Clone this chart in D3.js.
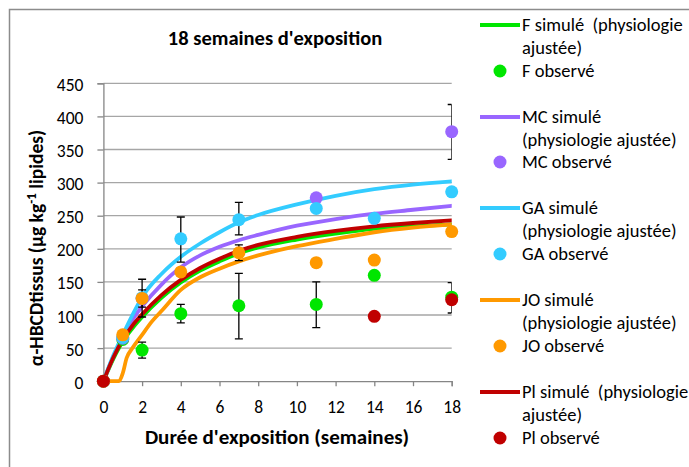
<!DOCTYPE html>
<html><head><meta charset="utf-8">
<script src="https://cdn.jsdelivr.net/npm/d3@7"></script>
<style>
html,body{margin:0;padding:0;background:#fff;}
svg{display:block;font-family:Carlito,Lato,"Liberation Sans",sans-serif;}
</style></head>
<body><svg id="c" width="689" height="467"></svg>
<script>
// ---- data ----
const title = "18 semaines d'exposition";
const xTicks = [0,2,4,6,8,10,12,14,16,18];
const yTicks = [0,50,100,150,200,250,300,350,400,450];
const seriesNames = ["F","MC","GA","JO","Pl"];
const seriesColors = ["#00e600","#9966ff","#33ccff","#ff9900","#c00000"];

const simTimes = [0,0.5,1,1.5,2,3,4,5,6,7,8,10,12,14,16,18];
const simF  = [0,33,60,80,97,126,149,167,181,193,202,214,223,230,234,237];
const simMC = [0,36,66,93,113,146,172,190,203,213,221,235,245,253,259,265];
const simGA = [0,38,70,100,127,162,188,208,225,240,251,267,280,290,297,302];
const simPl = [0,35,63,84,101,130,153,171,185,197,206,218,227,234,239,243];
const simTimesJO = [0,0.5,0.8,1,1.2,1.5,2,2.5,3,4,5,6,7,8,10,12,14,16,18];
const simJO = [0,0,0,12,35,50,70,90,106,138,157,170,181,190,204,215,225,232,237];

const obsTimesF = [0,1,2,4,7,11,14,18];
const obsF  = [0,63,47,102,114,116,160,127];
const errLoF = [null,null,35,88,64,81,null,103];
const errHiF = [null,null,59,116,163,150,null,149];

const obsTimesMC = [0,1,2,11,18];
const obsMC = [0,65,125,277,377];
const errLoMC = [null,null,112,null,335];
const errHiMC = [null,null,138,null,418];

const obsTimesGA = [0,1,2,4,7,11,14,18];
const obsGA = [0,66,126,215,244,261,246,286];
const errLoGA = [null,null,null,180,221,null,null,null];
const errHiGA = [null,null,null,248,270,null,null,null];

const obsTimesJO = [0,1,2,4,7,11,14,18];
const obsJO = [0,70,125,165,194,179,183,226];
const errLoJO = [null,null,97,null,182,null,null,null];
const errHiJO = [null,null,154,null,206,null,null,null];

const obsTimesPl = [0,14,18];
const obsPl = [0,98,123];

// ---- build ----
const simData = [
  {t:simTimes, v:simF}, {t:simTimes, v:simMC}, {t:simTimes, v:simGA},
  {t:simTimesJO, v:simJO}, {t:simTimes, v:simPl}];
const obsData = [
  {t:obsTimesF, v:obsF, lo:errLoF, hi:errHiF},
  {t:obsTimesMC, v:obsMC, lo:errLoMC, hi:errHiMC},
  {t:obsTimesGA, v:obsGA, lo:errLoGA, hi:errHiGA},
  {t:obsTimesJO, v:obsJO, lo:errLoJO, hi:errHiJO},
  {t:obsTimesPl, v:obsPl, lo:obsPl.map(()=>null), hi:obsPl.map(()=>null)}];

const svg = d3.select("#c");
const L = 103.4, R = 451.7, T = 83.3, B = 381.2;
const x = d3.scaleLinear().domain([0,18]).range([L,R]);
const y = d3.scaleLinear().domain([0,450]).range([B,T]);

// chart border
svg.append("rect").attr("x",9.5).attr("y",9.5).attr("width",700).attr("height",500)
  .attr("fill","none").attr("stroke","#8c8c8c").attr("stroke-width",1.5);

// gridlines
svg.append("g").selectAll("line").data(yTicks.filter(d=>d>0)).join("line")
  .attr("x1",L).attr("x2",R).attr("y1",d=>y(d)).attr("y2",d=>y(d))
  .attr("stroke","#a6a6a6").attr("stroke-width",1.3);

// axes
const yAxis = d3.axisLeft(y).tickValues(yTicks).tickSize(6).tickPadding(14);
const gy = svg.append("g").attr("transform",`translate(${L},0)`).call(yAxis);
const xAxis = d3.axisBottom(x).tickValues(xTicks).tickSize(5).tickPadding(15);
const gx = svg.append("g").attr("transform",`translate(0,${B})`).call(xAxis);
[gx,gy].forEach(g=>{
  g.select(".domain").attr("stroke","#868686").attr("stroke-width",1.3);
  g.selectAll(".tick line").attr("stroke","#868686").attr("stroke-width",1.3);
  g.selectAll(".tick text").attr("fill","#000").style("font-size","17.5px")
    .style("font-family","Carlito,Lato,'Liberation Sans',sans-serif");
});
gy.selectAll(".tick text").attr("dy","0.4em");
gx.selectAll(".tick text").attr("dy","0.7em");

// clip
svg.append("clipPath").attr("id","plot").append("rect")
  .attr("x",L-8).attr("y",T-40).attr("width",R-L+8).attr("height",B-T+48);

const plot = svg.append("g").attr("clip-path","url(#plot)");

// simulated lines
const line = d3.line().curve(d3.curveMonotoneX);
simData.forEach((s,i)=>{
  plot.append("path")
    .attr("d", line(s.t.map((t,j)=>[x(t), y(s.v[j])])))
    .attr("fill","none").attr("stroke",seriesColors[i]).attr("stroke-width",3.8)
    .attr("stroke-linejoin","round").attr("stroke-linecap","round");
});

// error bars
obsData.forEach((s,i)=>{
  s.t.forEach((t,j)=>{
    if (s.lo[j]==null) return;
    const g = plot.append("g").attr("stroke","#000").attr("stroke-width",1.3);
    g.append("line").attr("x1",x(t)).attr("x2",x(t)).attr("y1",y(s.lo[j])).attr("y2",y(s.hi[j]));
    [s.lo[j], s.hi[j]].forEach(v=>{
      g.append("line").attr("x1",x(t)-4).attr("x2",Math.min(x(t)+4,R)).attr("y1",y(v)).attr("y2",y(v));
    });
  });
});

// observed points
obsData.forEach((s,i)=>{
  svg.append("g").selectAll("circle").data(s.t.map((t,j)=>[t,s.v[j]])).join("circle")
    .attr("cx",d=>x(d[0])).attr("cy",d=>y(d[1])).attr("r",6.5)
    .attr("fill",seriesColors[i]);
});

// title
svg.append("text").attr("x",275).attr("y",45).attr("text-anchor","middle")
  .style("font-size","20.5px").style("font-weight","bold").text(title);

// x title
svg.append("text").attr("x",277).attr("y",444).attr("text-anchor","middle")
  .style("font-size","21px").style("font-weight","bold").text("Durée d'exposition (semaines)");

// y title
const yt = svg.append("text").attr("transform","translate(43,248) rotate(-90)")
  .attr("text-anchor","middle").style("font-size","19.5px").style("font-weight","bold");
yt.append("tspan").text("α-HBCDtissus (µg kg");
yt.append("tspan").attr("baseline-shift","super").style("font-size","13px").text("-1");
yt.append("tspan").text(" lipides)");

// legend
const legendRows = [
  {type:"line", s:0, lines:["F simulé  (physiologie","ajustée)"], y:25},
  {type:"dot",  s:0, lines:["F observé"], y:71},
  {type:"line", s:1, lines:["MC simulé","(physiologie ajustée)"], y:117},
  {type:"dot",  s:1, lines:["MC observé"], y:162},
  {type:"line", s:2, lines:["GA simulé","(physiologie ajustée)"], y:208},
  {type:"dot",  s:2, lines:["GA observé"], y:254},
  {type:"line", s:3, lines:["JO simulé","(physiologie ajustée)"], y:300},
  {type:"dot",  s:3, lines:["JO observé"], y:346},
  {type:"line", s:4, lines:["Pl simulé  (physiologie","ajustée)"], y:392},
  {type:"dot",  s:4, lines:["Pl observé"], y:438}
];
const lg = svg.append("g");
legendRows.forEach(r=>{
  if (r.type==="line") {
    lg.append("line").attr("x1",480).attr("x2",520).attr("y1",r.y).attr("y2",r.y)
      .attr("stroke",seriesColors[r.s]).attr("stroke-width",4);
  } else {
    lg.append("circle").attr("cx",500).attr("cy",r.y).attr("r",6.5).attr("fill",seriesColors[r.s]);
  }
  r.lines.forEach((t,k)=>{
    lg.append("text").attr("x",522).attr("y",r.y+6+k*23).style("font-size","18.5px")
      .style("white-space","pre").attr("xml:space","preserve").text(t);
  });
});
</script></body></html>
